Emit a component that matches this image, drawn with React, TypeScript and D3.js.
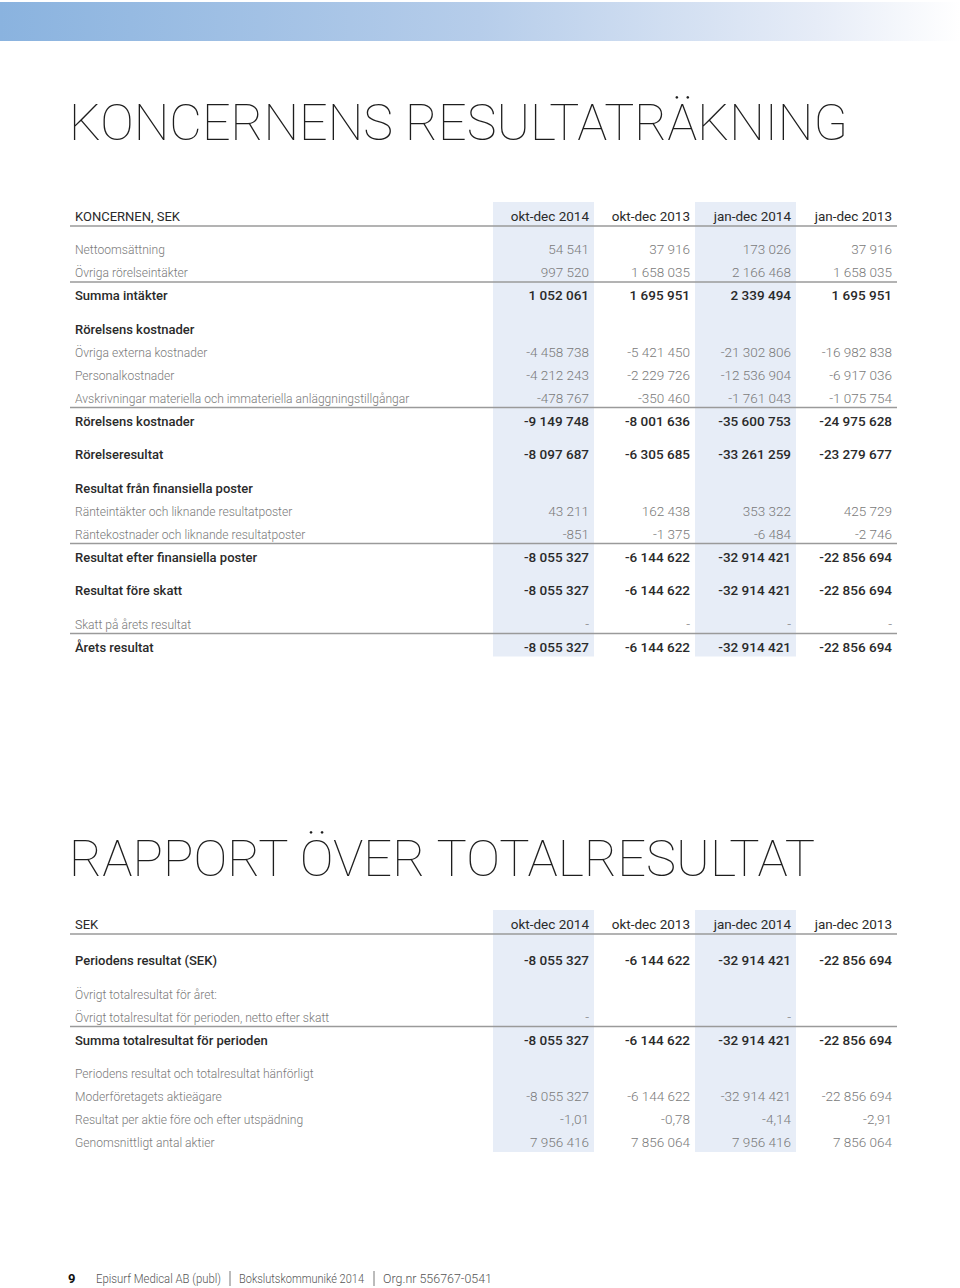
import React from "react";
import * as d3 from "d3";

const columns = ["okt-dec 2014", "okt-dec 2013", "jan-dec 2014", "jan-dec 2013"];
const shadedCols = [0, 2];

type Row = { label: string; values: string[]; bold?: boolean; gap?: boolean; lineAfter?: boolean };

const incomeRows: Row[] = [
  { label: "Nettoomsättning", values: ["54 541", "37 916", "173 026", "37 916"] },
  { label: "Övriga rörelseintäkter", values: ["997 520", "1 658 035", "2 166 468", "1 658 035"], lineAfter: true },
  { label: "Summa intäkter", values: ["1 052 061", "1 695 951", "2 339 494", "1 695 951"], bold: true },
  { label: "Rörelsens kostnader", values: ["", "", "", ""], bold: true, gap: true },
  { label: "Övriga externa kostnader", values: ["-4 458 738", "-5 421 450", "-21 302 806", "-16 982 838"] },
  { label: "Personalkostnader", values: ["-4 212 243", "-2 229 726", "-12 536 904", "-6 917 036"] },
  { label: "Avskrivningar materiella  och immateriella anläggningstillgångar", values: ["-478 767", "-350 460", "-1 761 043", "-1 075 754"], lineAfter: true },
  { label: "Rörelsens kostnader", values: ["-9 149 748", "-8 001 636", "-35 600 753", "-24 975 628"], bold: true },
  { label: "Rörelseresultat", values: ["-8 097 687", "-6 305 685", "-33 261 259", "-23 279 677"], bold: true, gap: true },
  { label: "Resultat från finansiella poster", values: ["", "", "", ""], bold: true, gap: true },
  { label: "Ränteintäkter och liknande resultatposter", values: ["43 211", "162 438", "353 322", "425 729"] },
  { label: "Räntekostnader och liknande resultatposter", values: ["-851", "-1 375", "-6 484", "-2 746"], lineAfter: true },
  { label: "Resultat efter finansiella poster", values: ["-8 055 327", "-6 144 622", "-32 914 421", "-22 856 694"], bold: true },
  { label: "Resultat före skatt", values: ["-8 055 327", "-6 144 622", "-32 914 421", "-22 856 694"], bold: true, gap: true },
  { label: "Skatt på årets resultat", values: ["-", "-", "-", "-"], gap: true, lineAfter: true },
  { label: "Årets resultat", values: ["-8 055 327", "-6 144 622", "-32 914 421", "-22 856 694"], bold: true },
];

const totalRows: Row[] = [
  { label: "Periodens resultat (SEK)", values: ["-8 055 327", "-6 144 622", "-32 914 421", "-22 856 694"], bold: true, gap: true },
  { label: "Övrigt totalresultat för året:", values: ["", "", "", ""], gap: true },
  { label: "Övrigt totalresultat för perioden, netto efter skatt", values: ["-", "", "-", ""], lineAfter: true },
  { label: "Summa totalresultat för perioden", values: ["-8 055 327", "-6 144 622", "-32 914 421", "-22 856 694"], bold: true },
  { label: "Periodens resultat och totalresultat hänförligt", values: ["", "", "", ""], gap: true },
  { label: "Moderföretagets aktieägare", values: ["-8 055 327", "-6 144 622", "-32 914 421", "-22 856 694"] },
  { label: "Resultat per aktie före och efter utspädning", values: ["-1,01", "-0,78", "-4,14", "-2,91"] },
  { label: "Genomsnittligt antal aktier", values: ["7 956 416", "7 856 064", "7 956 416", "7 856 064"] },
];

const footerParts = ["Episurf Medical AB (publ)", "Bokslutskommuniké 2014", "Org.nr 556767-0541"];

const W = 960;
const H = 1288;
const LEFT = 70;
const RIGHT = 897;
const STEP = 23;
const GAP = 10.5;

const xCol = d3.scaleBand<string>().domain(columns).range([493, 897]).padding(0);

const LIGHT = "#7a7a7a";
const DARK = "#2a2a2a";
const SHADE = "#e7edf7";
const RULE = "#9a9a9a";
const FONT = "Roboto, 'Liberation Sans', sans-serif";

function layout(rows: Row[], firstY: number) {
  let y = firstY;
  return rows.map((r, i) => {
    if (i > 0) y += STEP + (r.gap ? GAP : 0);
    return { ...r, y };
  });
}

function Table({ title, titleY, titleWidth, headerLabel, headerY, rows, firstY }: {
  title: string; titleY: number; titleWidth: number; headerLabel: string; headerY: number; rows: Row[]; firstY: number;
}) {
  const laid = layout(rows, firstY);
  const lastY = laid[laid.length - 1].y;
  const shadeTop = headerY - 19;
  const shadeBottom = lastY + 5;
  return (
    <g>
      <text x={LEFT - 1} y={titleY} fontFamily={FONT} fontWeight={100} fontSize={50}
        fill="#1e1e1e" textLength={titleWidth} lengthAdjust="spacingAndGlyphs">{title}</text>
      {shadedCols.map((c) => (
        <rect key={c} x={xCol(columns[c])} y={shadeTop} width={xCol.bandwidth()} height={shadeBottom - shadeTop} fill={SHADE} />
      ))}
      <text x={LEFT + 5} y={headerY} fontFamily={FONT} fontWeight={400} fontSize={13}
        fill={DARK}>{headerLabel}</text>
      {columns.map((c) => (
        <text key={c} x={(xCol(c) as number) + xCol.bandwidth() - 5} y={headerY} textAnchor="end"
          fontFamily={FONT} fontWeight={400} fontSize={13.5} fill={DARK}>{c}</text>
      ))}
      <line x1={LEFT} x2={RIGHT} y1={headerY + 5} y2={headerY + 5} stroke={RULE} strokeWidth={1.5} />
      {laid.map((r, i) => (
        <g key={i}>
          <text x={LEFT + 5} y={r.y} fontFamily={FONT} fontWeight={r.bold ? 500 : 300}
            fontSize={r.bold ? 13 : 12.1} fill={r.bold ? DARK : LIGHT}>{r.label}</text>
          {r.values.map((v, j) => v ? (
            <text key={j} x={(xCol(columns[j]) as number) + xCol.bandwidth() - 5} y={r.y} textAnchor="end"
              fontFamily={FONT} fontWeight={r.bold ? 500 : 300} fontSize={13.5} fill={r.bold ? DARK : LIGHT}>{v}</text>
          ) : null)}
          {r.lineAfter && (
            <line x1={LEFT} x2={RIGHT} y1={r.y + 5} y2={r.y + 5} stroke={RULE} strokeWidth={1.5} />
          )}
        </g>
      ))}
    </g>
  );
}

export default function App() {
  const footerX = [96, 239, 383];
  const footerW = [125, 125, 109];
  return (
    <svg width={W} height={H} style={{ position: "absolute", left: 0, top: 0, background: "#fff" }}>
      <defs>
        <linearGradient id="banner" x1="0" x2="1" y1="0" y2="0">
          <stop offset="0" stopColor="#8ab3df" />
          <stop offset="0.5" stopColor="#b6cdea" />
          <stop offset="0.85" stopColor="#e6ecf7" />
          <stop offset="1" stopColor="#ffffff" />
        </linearGradient>
      </defs>
      <rect x={0} y={2} width={W} height={39} fill="url(#banner)" />
      <Table title="KONCERNENS RESULTATRÄKNING" titleY={140} titleWidth={779} headerLabel="KONCERNEN, SEK"
        headerY={221} rows={incomeRows} firstY={254} />
      <Table title="RAPPORT ÖVER TOTALRESULTAT" titleY={876} titleWidth={746} headerLabel="SEK"
        headerY={929} rows={totalRows} firstY={965} />
      <text x={68} y={1283} fontFamily={FONT} fontWeight={700} fontSize={13} fill="#111">9</text>
      {footerParts.map((p, i) => (
        <text key={p} x={footerX[i]} y={1283} fontFamily={FONT} fontWeight={300} fontSize={12.5} fill="#555"
          textLength={footerW[i]} lengthAdjust="spacingAndGlyphs">{p}</text>
      ))}
      {[230, 374].map((x) => (
        <line key={x} x1={x} x2={x} y1={1271} y2={1286} stroke="#555" strokeWidth={0.8} />
      ))}
    </svg>
  );
}
